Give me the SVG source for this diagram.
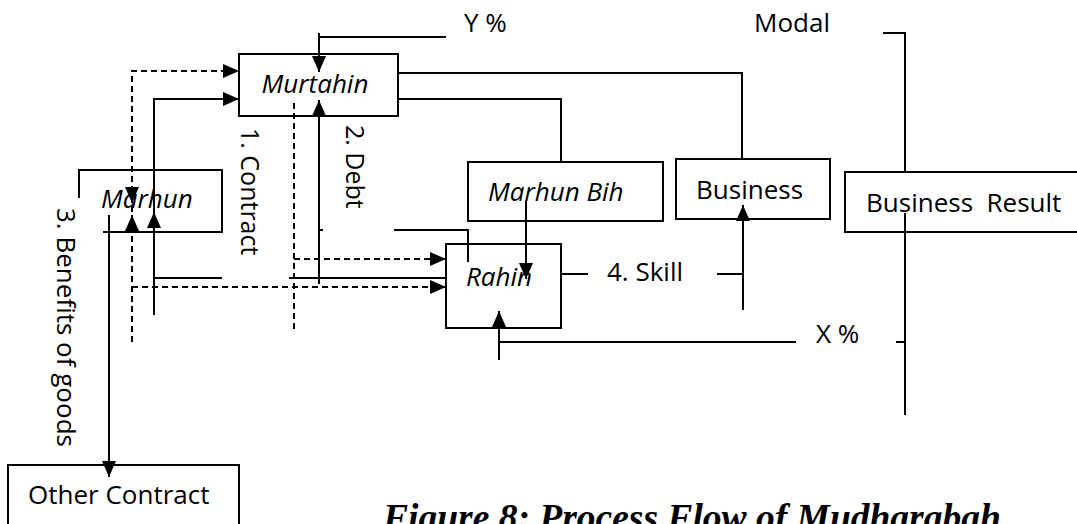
<svg xmlns="http://www.w3.org/2000/svg" width="1077" height="524" viewBox="0 0 1077 524">
<style>
.box{fill:none;stroke:#000;stroke-width:2}
.ln{fill:none;stroke:#000;stroke-width:2}
.ds{fill:none;stroke:#000;stroke-width:2;stroke-dasharray:6,4}
.t{font-family:"Open Sans","Liberation Sans",sans-serif;font-size:26px;fill:#000}
.r{font-size:25px}
.i{font-style:italic}
.cap{font-family:"Liberation Serif",serif;font-size:37.5px;font-weight:bold;font-style:italic;fill:#000}
</style>
<defs>
<marker id="ah" markerUnits="userSpaceOnUse" markerWidth="16" markerHeight="14" refX="16" refY="7" orient="auto">
<path d="M0,0 L16,7 L0,14 z" fill="#000"/>
</marker>
</defs>
<rect width="1077" height="524" fill="#fff"/>
<g id="connectors">
<path class="ln" d="M446,37 H319"/>
<path class="ln" d="M319,33 V72" marker-end="url(#ah)"/>
<path class="ln" d="M319,284 V100" marker-end="url(#ah)"/>
<path class="ln" d="M319,230 H323"/>
<path class="ln" d="M289,278 H446"/>
<path class="ln" d="M154,278 H222"/>
<path class="ln" d="M154,315 V99 H239" marker-end="url(#ah)"/>
<path class="ln" d="M154,240 V212" marker-end="url(#ah)"/>
<path class="ds" d="M132,342 V71 H239" marker-end="url(#ah)"/>
<path class="ln" d="M132,186 V203" marker-end="url(#ah)"/>
<path class="ln" d="M132,232 V215" marker-end="url(#ah)"/>
<path class="ds" d="M132,287 H446" marker-end="url(#ah)"/>
<path class="ds" d="M294,103 V333"/>
<path class="ds" d="M294,259 H446" marker-end="url(#ah)"/>
<path class="ln" d="M394,230 H468 V262"/>
<path class="ln" d="M399,99 H561 V162"/>
<path class="ln" d="M399,73 H742 V159"/>
<path class="ln" d="M526,201 V279" marker-end="url(#ah)"/>
<path class="ln" d="M561,274 H588"/>
<path class="ln" d="M717,274 H743"/>
<path class="ln" d="M743,310 V205" marker-end="url(#ah)"/>
<path class="ln" d="M883,33 H905 V172"/>
<path class="ln" d="M905,213 V415"/>
<path class="ln" d="M896,342 H905"/>
<path class="ln" d="M499,342 H796"/>
<path class="ln" d="M499,360 V311" marker-end="url(#ah)"/>
<path class="ln" d="M109,215 V477" marker-end="url(#ah)"/>
</g>
<g id="murtahin">
<rect class="box" x="239" y="54" width="159" height="62"/>
<text class="t i" x="315" y="93" text-anchor="middle">Murtahin</text>
</g>
<g id="marhun">
<path class="box" d="M79,198 V170 H222 V232 H103"/>
<text class="t i" x="101" y="208">Marhun</text>
</g>
<g id="marhun-bih">
<rect class="box" x="468" y="162" width="195" height="59"/>
<text class="t i" x="488" y="201">Marhun Bih</text>
</g>
<g id="business">
<rect class="box" x="676" y="159" width="154" height="60"/>
<text class="t" x="696" y="199">Business</text>
</g>
<g id="business-result">
<rect class="box" x="845" y="172" width="250" height="60"/>
<text class="t" x="866" y="212" style="white-space:pre">Business  Result</text>
</g>
<g id="rahin">
<rect class="box" x="446" y="244" width="115" height="84"/>
<text class="t i" x="466" y="286">Rahin</text>
</g>
<g id="other-contract">
<rect class="box" x="8" y="465" width="231" height="70"/>
<text class="t" x="28" y="504">Other Contract</text>
</g>
<g id="labels">
<text class="t" x="464" y="32">Y %</text>
<text class="t" x="754" y="32">Modal</text>
<text class="t" x="607" y="281">4. Skill</text>
<text class="t" x="816" y="343">X %</text>
<text class="t r" transform="translate(241,128) rotate(90)">1. Contract</text>
<text class="t r" transform="translate(346,125) rotate(90)">2. Debt</text>
<text class="t" transform="translate(57,208) rotate(90)">3. Benefits of goods</text>
<text class="cap" x="383" y="530">Figure 8: Process Flow of Mudharabah</text>
</g>
</svg>
